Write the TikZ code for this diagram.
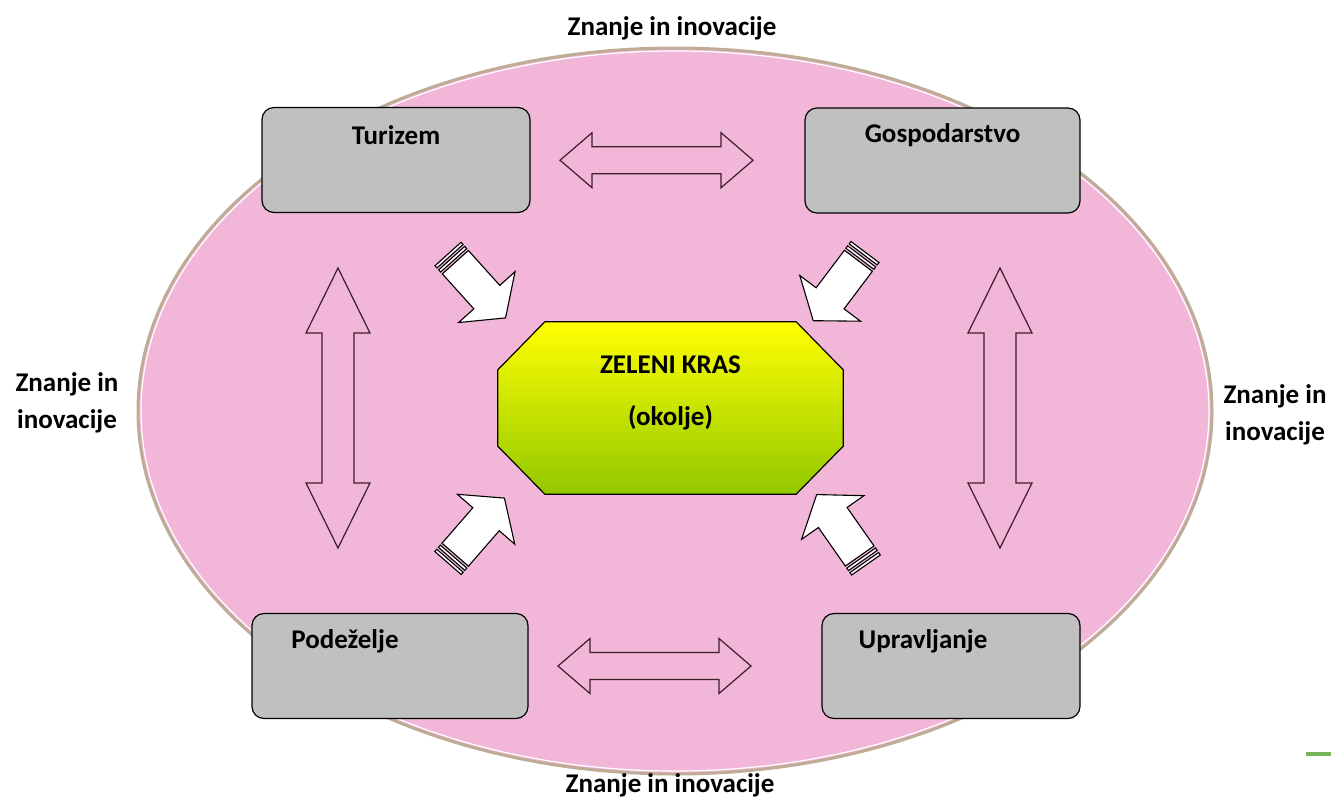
\documentclass[tikz,border=0pt]{standalone}
\usepackage{fontspec}
\setmainfont{Carlito}
\usetikzlibrary{calc}

\definecolor{ovalpink}{RGB}{241,182,216}
\definecolor{ovalrim}{RGB}{190,172,150}
\definecolor{boxgray}{RGB}{192,192,192}
\definecolor{arrowink}{RGB}{60,30,40}
\definecolor{krasyellow}{RGB}{255,255,0}
\definecolor{krasgreen}{RGB}{146,200,0}
\definecolor{slidegreen}{RGB}{120,180,90}

\tikzset{
  lbl/.style={font=\fontsize{27}{37}\selectfont\bfseries, inner sep=0pt, align=center},
  sector/.style={draw=black, line width=1.2, fill=boxgray, rounded corners=12, minimum width=268, minimum height=105, inner sep=0pt},
  arrowline/.style={draw=arrowink, line width=1.2},
  stripe/.style={draw=black, line width=1.1, fill=white},
  pics/dblarrow/.style n args={4}{code={
    \draw[arrowline] (-#1,0) -- (-#1+#2,#3) -- (-#1+#2,#4) -- (#1-#2,#4) -- (#1-#2,#3) -- (#1,0)
      -- (#1-#2,-#3) -- (#1-#2,-#4) -- (-#1+#2,-#4) -- (-#1+#2,-#3) -- cycle;
  }},
  pics/striparrow/.style={code={
    \draw[stripe] (0,-17.5) rectangle (3,17.5);
    \draw[stripe] (5.5,-17.5) rectangle (8.5,17.5);
    \draw[stripe] (11,-17.5) -- (58,-17.5) -- (58,-38) -- (86,0) -- (58,38) -- (58,17.5) -- (11,17.5) -- cycle;
  }},
}

\begin{document}
\begin{tikzpicture}[x=1pt,y=1pt,yscale=-1]

\useasboundingbox (0,0) rectangle (1331,801);

% oval
\draw [fill=ovalpink, draw=ovalrim, line width=3] (675,411) ellipse [x radius=537, y radius=363];
\draw [white, line width=1.2] (675,411) ellipse [x radius=534, y radius=360];
\draw [slidegreen, line width=4] (1306,754) -- (1331,754);

% sector boxes
\node [sector] (tur) at (396,160) {};
\node [sector, minimum width=275] (gos) at (942.5,160.5) {};
\node [sector, minimum width=276] (pod) at (390,666) {};
\node [sector, minimum width=258] (upr) at (951,666) {};

\node [lbl] (turtxt) at ($(tur.north)+(0,28)$) {Turizem};
\node [lbl] (gostxt) at ($(gos.north)+(0,28)$) {Gospodarstvo};
\node [lbl] (podtxt) at ($(pod.north)+(-45,28)$) {Podeželje};
\node [lbl] (uprtxt) at ($(upr.north)+(-28,28)$) {Upravljanje};

% centre
\node [minimum width=345, minimum height=172, inner sep=0pt] (kras) at (670.5,408) {};
\draw [draw=black, line width=1.2, top color=krasyellow, bottom color=krasgreen]
  ($(kras.north west)+(47,0)$) -- ($(kras.north east)+(-47,0)$) -- ($(kras.north east)+(0,48)$)
  -- ($(kras.south east)+(0,-48)$) -- ($(kras.south east)+(-47,0)$) -- ($(kras.south west)+(47,0)$)
  -- ($(kras.south west)+(0,-48)$) -- ($(kras.north west)+(0,48)$) -- cycle;
\node [lbl, font=\fontsize{27}{30}\selectfont\bfseries] (krastxt) at ($(kras.center)+(0,-15)$) {ZELENI KRAS\\[22pt](okolje)};

% double arrows
\pic at ($(tur.east)!0.46!(gos.west)$) {dblarrow={96.5}{32}{27.5}{13.5}};
\pic at ($(pod.east)!0.43!(upr.west)$) {dblarrow={96.5}{32}{27.5}{13.5}};
\pic [rotate=90] at (338,408) {dblarrow={140}{65}{32}{16}};
\pic [rotate=90] at (1000,408) {dblarrow={140}{65}{32}{16}};

% arrows into the centre
\pic [rotate=-48] at (448,254) {striparrow};
\pic [rotate=-127] at (865,252) {striparrow};
\pic [rotate=49] at (448,563) {striparrow};
\pic [rotate=125] at (866,565) {striparrow};

% Text Node
\node [lbl] (top) at (672,28) {Znanje in inovacije};
\node [lbl] (bottom) at (670,785) {Znanje in inovacije};
\node [lbl] (left) at (67,403) {Znanje in\\inovacije};
\node [lbl] (right) at (1275,415) {Znanje in\\inovacije};

\end{tikzpicture}
\end{document}
